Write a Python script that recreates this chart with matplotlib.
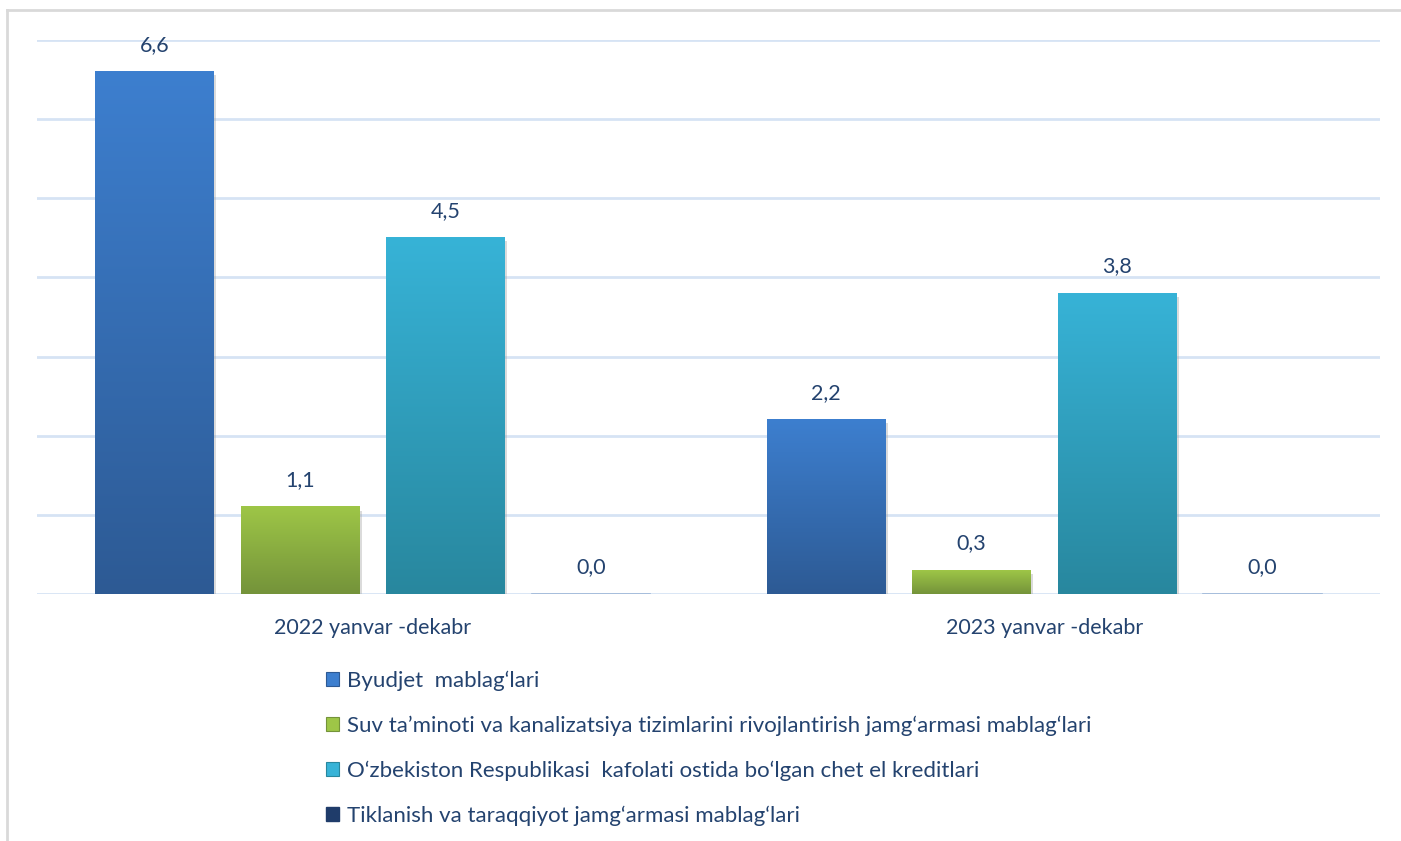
#
# Bar chart: funding sources, 2022 vs 2023
#

import matplotlib.pyplot as plt
import numpy as np
from matplotlib.colors import LinearSegmentedColormap
from matplotlib.patches import Patch, Rectangle
from matplotlib.lines import Line2D

categories = ["2022 yanvar -dekabr", "2023 yanvar -dekabr"]
series_names = [
    "Byudjet  mablag\u2018lari",
    "Suv ta\u2019minoti va kanalizatsiya tizimlarini rivojlantirish jamg\u2018armasi mablag\u2018lari",
    "O\u2018zbekiston Respublikasi  kafolati ostida bo\u2018lgan chet el kreditlari",
    "Tiklanish va taraqqiyot jamg\u2018armasi mablag\u2018lari",
]
byudjet = [6.6, 2.2]
suv_fond = [1.1, 0.3]
kreditlar = [4.5, 3.8]
tiklanish = [0.0, 0.0]

series_values = [byudjet, suv_fond, kreditlar, tiklanish]
# (top colour, bottom colour) of the gradient fill
series_colors = [("#3D7FCF", "#2D5A94"),
                 ("#9EC647", "#74933A"),
                 ("#37B3D7", "#28879E"),
                 ("#2B4F88", "#1B355F")]

text_color = "#24436F"
grid_color = "#D6E3F4"
plt.rcParams['font.family'] = ['Lato', 'DejaVu Sans']

fig = plt.figure(figsize=(14.01, 8.41), dpi=100)
ax = fig.add_axes([37 / 1401, 1 - 594 / 841, (1380 - 37) / 1401, (594 - 40) / 841])

x = np.arange(len(categories))
bar_w = 0.176
step = 0.2167
offsets = (np.arange(len(series_values)) - 1.5) * step

for i, (vals, (c_top, c_bot)) in enumerate(zip(series_values, series_colors)):
    cmap = LinearSegmentedColormap.from_list(f"g{i}", [c_bot, c_top])
    grad = np.linspace(0, 1, 256).reshape(-1, 1)
    for xc, v in zip(x + offsets[i], vals):
        x0, x1 = xc - bar_w / 2, xc + bar_w / 2
        if v > 0:
            # soft shadow
            ax.add_patch(Rectangle((x0 + 0.002, -0.045), bar_w + 0.002, v,
                                   facecolor="#999999", alpha=0.35,
                                   edgecolor="none", zorder=2))
            ax.imshow(grad, extent=[x0, x1, 0, v], origin="lower",
                      cmap=cmap, aspect="auto", zorder=3)
        else:
            ax.plot([x0, x1], [0, 0], color="#9DB6D8", lw=1.2, zorder=3)
        ax.annotate(f"{v:.1f}".replace(".", ","), (xc, v),
                    xytext=(0, 12), textcoords="offset points",
                    ha="center", va="bottom", fontsize=15.5, color=text_color)

ax.set_xlim(-0.5, 1.5)
ax.set_ylim(0, 7)
ax.set_yticks(np.arange(0, 8, 1))
ax.yaxis.grid(True, color=grid_color, lw=2)
ax.set_axisbelow(True)
ax.tick_params(axis="y", left=False, labelleft=False)
ax.set_xticks(x)
ax.set_xticklabels(categories, fontsize=15.5, color=text_color)
ax.tick_params(axis="x", bottom=False, pad=13.5)
for s in ax.spines.values():
    s.set_visible(False)

# chart frame (only top and left edges visible in the crop)
fig.add_artist(Line2D([7 / 1401, 7 / 1401], [0, 1 - 10 / 841],
                      transform=fig.transFigure, color="#D9D9D9", lw=2))
fig.add_artist(Line2D([7 / 1401, 1], [1 - 10 / 841, 1 - 10 / 841],
                      transform=fig.transFigure, color="#D9D9D9", lw=2))

handles = [Patch(facecolor=c_top, edgecolor=c_bot, lw=0.8)
           for c_top, c_bot in series_colors]
handles[3] = Patch(facecolor="#1F3C6A", edgecolor="#1F3C6A")
leg = fig.legend(handles, series_names, loc="upper left",
                 bbox_to_anchor=(317 / 1401, 1 - 662 / 841),
                 frameon=False, fontsize=16, handlelength=0.6,
                 handleheight=0.6, handletextpad=0.35, labelspacing=1.1,
                 borderaxespad=0)
for t in leg.get_texts():
    t.set_color(text_color)

fig.savefig("out.png", dpi=100)
